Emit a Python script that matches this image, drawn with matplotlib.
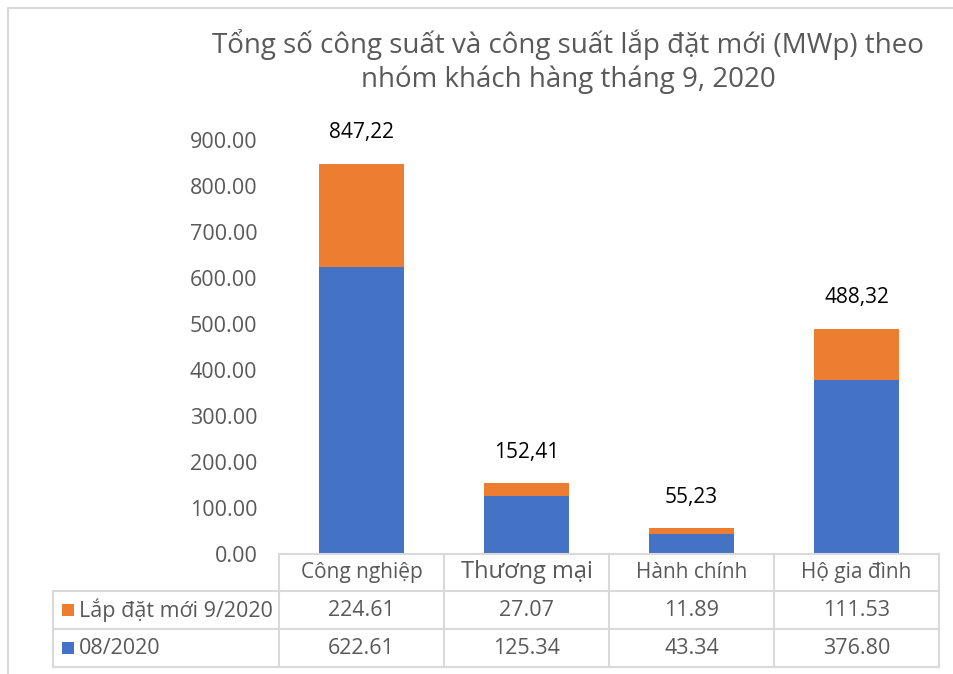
import matplotlib
matplotlib.use('Agg')
import matplotlib.pyplot as plt
from matplotlib.lines import Line2D
from matplotlib.patches import Rectangle
from matplotlib.transforms import blended_transform_factory

# ---------------- data ----------------
categories = ['Công nghiệp', 'Thương mại', 'Hành chính', 'Hộ gia đình']
base_0820 = [622.61, 125.34, 43.34, 376.80]
new_0920 = [224.61, 27.07, 11.89, 111.53]
total_labels = ['847,22', '152,41', '55,23', '488,32']
series_names = ['Lắp đặt mới 9/2020', '08/2020']
yticks = [0, 100, 200, 300, 400, 500, 600, 700, 800, 900]
title = 'Tổng số công suất và công suất lắp đặt mới (MWp) theo\nnhóm khách hàng tháng 9, 2020'

BLUE = '#4472C4'
ORANGE = '#ED7D31'
GRID = '#D9D9D9'
TXT = '#595959'
FONT = ['Open Sans', 'DejaVu Sans']
TFONT = ['Liberation Sans Narrow', 'Open Sans', 'DejaVu Sans']

W, H = 954, 674
fig = plt.figure(figsize=(W / 100, H / 100), dpi=100)


def fx(x):
    return x / W


def fy(y):
    return 1 - y / H


# chart frame border (partially visible)
fig.add_artist(Line2D([fx(8), fx(8)], [fy(8), fy(H + 5)], transform=fig.transFigure, color=GRID, lw=1.5))
fig.add_artist(Line2D([fx(8), fx(W + 5)], [fy(8), fy(8)], transform=fig.transFigure, color=GRID, lw=1.5))

ax = fig.add_axes([fx(279), fy(553.5), fx(939) - fx(279), fy(139.5) - fy(553.5)])
xs = list(range(len(categories)))
ax.bar(xs, base_0820, width=0.51, color=BLUE, zorder=2)
ax.bar(xs, new_0920, bottom=base_0820, width=0.51, color=ORANGE, zorder=2)
ax.set_xlim(-0.5, len(categories) - 0.5)
ax.set_ylim(0, 900)
ax.set_yticks(yticks)
ax.set_yticklabels([f'{v:.2f}' for v in yticks], family=FONT, fontsize=15.5, color=TXT)
ax.tick_params(axis='y', length=0, pad=15.5)
ax.set_xticks([])
for s in ax.spines.values():
    s.set_visible(False)

for i in xs:
    ax.annotate(total_labels[i], (i, base_0820[i] + new_0920[i]), xytext=(0, 31),
                textcoords='offset pixels', ha='center', va='center',
                fontsize=15, color='black', family=FONT, annotation_clip=False)

# ---------------- data table ----------------
tr = blended_transform_factory(ax.transData, fig.transFigure)
n = len(categories)
y_head_top, y_r1, y_r2, y_bot = 554, 591, 629, 667
x_leg_left = 53


def hline(y, x0fig=None):
    if x0fig is None:
        fig.add_artist(Line2D([-0.5, n - 0.5], [fy(y), fy(y)], transform=tr, color=GRID, lw=1.5))
    else:
        fig.add_artist(Line2D([fx(x0fig), fx(939)], [fy(y), fy(y)], transform=fig.transFigure, color=GRID, lw=1.5))


hline(y_head_top)
for y in (y_r1, y_r2, y_bot):
    hline(y, x_leg_left)
for b in range(n + 1):
    fig.add_artist(Line2D([b - 0.5, b - 0.5], [fy(y_head_top), fy(y_bot)], transform=tr, color=GRID, lw=1.5))
fig.add_artist(Line2D([fx(x_leg_left), fx(x_leg_left)], [fy(y_r1), fy(y_bot)], transform=fig.transFigure, color=GRID, lw=1.5))

for i, c in enumerate(categories):
    fs = 17 if c == 'Thương mại' else 15
    fig.text(i, fy((y_head_top + y_r1) / 2), c, transform=tr, ha='center', va='center',
             fontsize=fs, color=TXT, family=FONT)

rows = [(series_names[0], new_0920, ORANGE, (y_r1 + y_r2) / 2),
        (series_names[1], base_0820, BLUE, (y_r2 + y_bot) / 2)]
for name, vals, col, yc in rows:
    fig.add_artist(Rectangle((fx(62), fy(yc + 6)), fx(12), 12 / H, transform=fig.transFigure,
                             facecolor=col, edgecolor='none'))
    fig.text(fx(79), fy(yc), name, ha='left', va='center', fontsize=15.5, color=TXT, family=FONT)
    for i, v in enumerate(vals):
        fig.text(i, fy(yc), f'{v:.2f}', transform=tr, ha='center', va='center',
                 fontsize=15.5, color=TXT, family=FONT)

fig.text(fx(568), fy(61.5), title, ha='center', va='center', fontsize=20, color=TXT,
         family=TFONT, linespacing=1.25)

fig.savefig('out.png', dpi=100, facecolor='white')
